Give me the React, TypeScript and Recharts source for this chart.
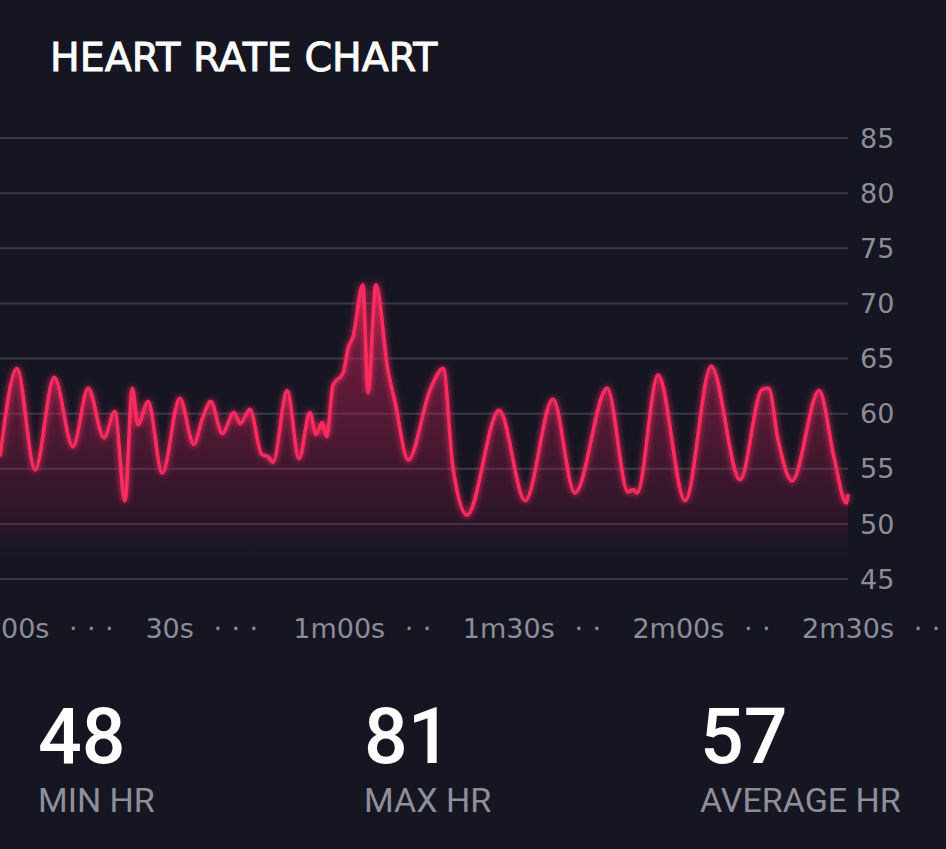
import {
  Area,
  CartesianGrid,
  ComposedChart,
  Line,
  XAxis,
  YAxis,
} from 'recharts'

// seconds since start of the recording
const times = [
  0, 3.0, 6.2, 9.6, 12.9, 15.6, 18.4, 20.3, 22.1, 23.4, 24.4, 26.2, 28.7, 31.8,
  34.3, 35.7, 37.3, 39.3, 41.4, 42.5, 44.2, 46.3, 47.4, 48.3, 50.8, 52.9, 54.8,
  55.9, 57.0, 57.8, 58.9, 60.7, 61.6, 62.4, 64.2, 65.1, 66.5, 68.6, 69.9, 72.2,
  76.1, 78.4, 80.1, 82.6, 88.3, 92.9, 97.8, 101.7, 107.4, 111.1, 112.0, 112.7,
  116.4, 121.2, 125.8, 130.9, 134.8, 136.0, 137.6, 140.1, 144.9, 147.5, 149.7,
  150,
]

// beats per minute at each time
const bpm = [
  56.1, 64.1, 54.9, 63.3, 57.0, 62.3, 57.8, 60.2, 52.1, 62.3, 59.0, 61.1, 54.6,
  61.4, 57.2, 59.4, 61.1, 58.2, 60.1, 59.1, 60.4, 56.3, 56.1, 55.6, 62.1, 55.9,
  60.1, 58.1, 59.2, 57.9, 62.6, 63.7, 66.0, 66.9, 71.7, 61.9, 71.7, 64.0, 61.0,
  55.8, 62.2, 64.1, 55.2, 50.8, 60.3, 52.1, 61.3, 52.8, 62.3, 52.9, 53.1, 52.8,
  63.5, 52.1, 64.3, 54.0, 62.2, 62.3, 57.7, 53.9, 62.1, 56.1, 51.9, 52.7,
]

const xTicks = [0, 30, 60, 90, 120, 150]
const xTickLabels = ['00s', '30s', '1m00s', '1m30s', '2m00s', '2m30s']
const xTickDots = [3, 3, 2, 2, 2, 2]
const yTicks = [45, 50, 55, 60, 65, 70, 75, 80, 85]

const statValues = [48, 81, 57]
const statLabels = ['MIN HR', 'MAX HR', 'AVERAGE HR']

const data = times.map((t, i) => ({ t, bpm: bpm[i] }))

const BG = '#161622'
const LINE = '#ff2b60'
const AXIS_TEXT = '#8d8d99'
const AXIS_FONT = '"DejaVu Sans", sans-serif'

// rough DejaVu Sans advance widths, used to place the dot separators
const charW: Record<string, number> = { m: 0.974, s: 0.521 }
const textWidth = (s: string, size: number) =>
  s.split('').reduce((w, c) => w + (charW[c] ?? 0.636), 0) * size

function XTick(props: any) {
  const { x, y, payload } = props
  const i = xTicks.indexOf(payload.value)
  const label = xTickLabels[i] ?? ''
  const w = textWidth(label, 27)
  const first = i === 0
  const right = first ? x + 1 + w : x + w / 2
  const dots = Array.from({ length: xTickDots[i] ?? 0 }, (_, k) => right + 24 + k * 18)
  return (
    <g>
      <text
        x={first ? x + 1 : x}
        y={y}
        dy="0.71em"
        textAnchor={first ? 'start' : 'middle'}
        fill={AXIS_TEXT}
        fontSize={27}
        fontFamily={AXIS_FONT}
      >
        {label}
      </text>
      {dots.map((dx, k) => (
        <text
          key={k}
          x={dx}
          y={y}
          dy="0.71em"
          textAnchor="middle"
          fill={AXIS_TEXT}
          fontSize={27}
          fontFamily={AXIS_FONT}
        >
          ·
        </text>
      ))}
    </g>
  )
}

function YTick(props: any) {
  const { x, y, payload } = props
  return (
    <text
      x={x}
      y={y}
      dy="0.36em"
      textAnchor="start"
      fill={AXIS_TEXT}
      fontSize={27}
      fontFamily={AXIS_FONT}
    >
      {payload.value}
    </text>
  )
}

export default function App() {
  return (
    <div
      style={{
        position: 'absolute',
        left: 0,
        top: 0,
        width: 946,
        height: 849,
        background: BG,
        overflow: 'hidden',
      }}
    >
      <svg
        width={946}
        height={849}
        style={{ position: 'absolute', left: 0, top: 0 }}
      >
        <text
          x={50}
          y={71}
          fill="#ffffff"
          stroke="#ffffff"
          strokeWidth={0.9}
          fontSize={39.5}
          fontFamily={AXIS_FONT}
        >
          HEART RATE CHART
        </text>
        {statValues.map((v, i) => (
          <g key={i}>
            <text
              x={[38, 364, 700][i]}
              y={763}
              fill="#ffffff"
              fontSize={77}
              fontWeight={500}
              fontFamily="Roboto, sans-serif"
            >
              {v}
            </text>
            <text
              x={[38, 364, 700][i]}
              y={812}
              fill="#8f8f99"
              fontSize={34}
              fontFamily="Roboto, sans-serif"
            >
              {statLabels[i]}
            </text>
          </g>
        ))}
      </svg>

      <div style={{ position: 'absolute', left: 0, top: 0 }}>
        <ComposedChart
          width={946}
          height={660}
          data={data}
          margin={{ top: 138, right: 0, bottom: 0, left: 0 }}
        >
          <defs>
            <linearGradient id="hrFill" x1="0" y1="0" x2="0" y2="1">
              <stop offset="0%" stopColor="#d8245a" stopOpacity={0.55} />
              <stop offset="45%" stopColor="#b01e50" stopOpacity={0.4} />
              <stop offset="78%" stopColor="#801640" stopOpacity={0.24} />
              <stop offset="95%" stopColor="#5a1034" stopOpacity={0} />
            </linearGradient>
            <filter id="hrGlow" x="-5%" y="-20%" width="110%" height="140%">
              <feGaussianBlur stdDeviation="3" result="blur" />
              <feMerge>
                <feMergeNode in="blur" />
                <feMergeNode in="SourceGraphic" />
              </feMerge>
            </filter>
          </defs>
          <CartesianGrid
            vertical={false}
            stroke="#383848"
            strokeWidth={2}
          />
          <XAxis
            dataKey="t"
            type="number"
            domain={[0, 150]}
            ticks={xTicks}
            interval={0}
            axisLine={false}
            tickLine={false}
            tickSize={0}
            tickMargin={40}
            height={81}
            tick={<XTick />}
          />
          <YAxis
            orientation="right"
            domain={[45, 85]}
            ticks={yTicks}
            interval={0}
            axisLine={false}
            tickLine={false}
            tickSize={0}
            tickMargin={12}
            width={98}
            tick={<YTick />}
          />
          <Area
            type="monotone"
            dataKey="bpm"
            stroke="none"
            fill="url(#hrFill)"
            fillOpacity={1}
            dot={false}
            activeDot={false}
            isAnimationActive={false}
          />
          <Line
            type="monotone"
            dataKey="bpm"
            stroke={LINE}
            strokeWidth={3.5}
            dot={false}
            activeDot={false}
            filter="url(#hrGlow)"
            isAnimationActive={false}
          />
        </ComposedChart>
      </div>
    </div>
  )
}
